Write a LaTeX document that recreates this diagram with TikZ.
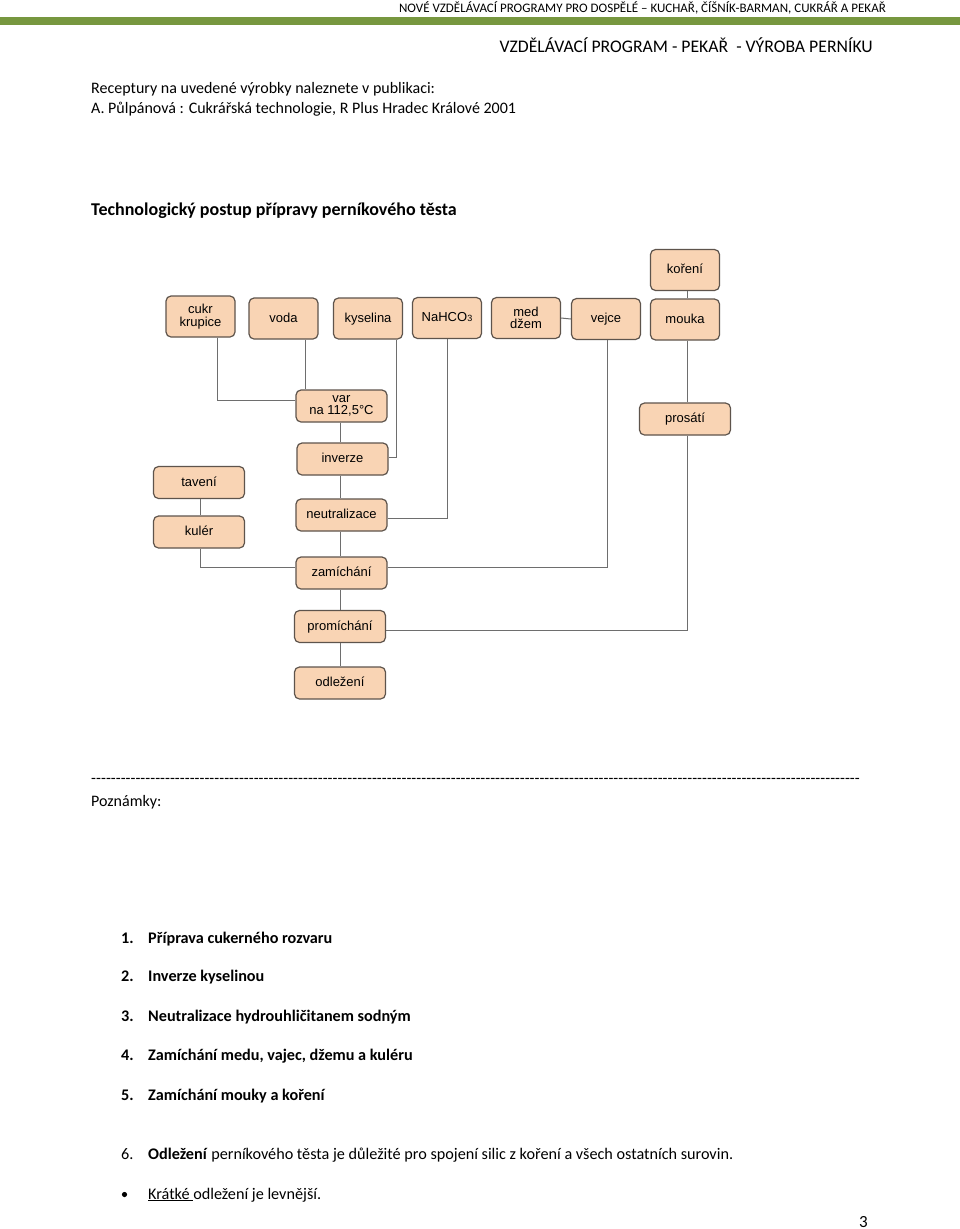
\documentclass[tikz,border=0pt]{standalone}
\usepackage{fontspec}
\setmainfont{Carlito}
\newfontfamily\arialf{Liberation Sans}
\usetikzlibrary{calc}
\definecolor{boxfill}{HTML}{F9D4B4}
\definecolor{boxline}{HTML}{5E544C}
\definecolor{connc}{HTML}{6E6E6E}
\definecolor{barg}{HTML}{77973F}
\begin{document}
\begin{tikzpicture}[x=1pt,y=-1pt,
  txt/.style={anchor=base west, inner sep=0, font=\fontsize{16}{19}\selectfont},
  listtxt/.style={anchor=base west, inner sep=0, font=\fontsize{16.2}{19}\selectfont},
  fbox/.style={draw=boxline, fill=boxfill, rounded corners=5pt, line width=1.2pt,
    align=center, inner sep=0pt, font=\arialf\fontsize{13}{12.5}\selectfont},
  one/.style={text height=9.5pt, text depth=2.5pt},
  topbox/.style={fbox, minimum width=69pt, minimum height=41pt},
  midbox/.style={fbox, minimum width=91pt, minimum height=32pt},
  conn/.style={draw=connc, line width=1pt}]
\useasboundingbox (0,0) rectangle (960,1229);
\fill[white] (0,0) rectangle (960,1229);

% header
\node[anchor=base east, inner sep=0, font=\fontsize{13}{15}\selectfont] (hdr) at (886,12)
  {NOVÉ VZDĚLÁVACÍ PROGRAMY PRO DOSPĚLÉ – KUCHAŘ, ČÍŠNÍK-BARMAN, CUKRÁŘ A PEKAŘ};
\fill[barg] (0,17) rectangle (960,25);
\node[anchor=base east, inner sep=0, font=\fontsize{17.7}{20}\selectfont] (ttl) at (873,52)
  {VZDĚLÁVACÍ PROGRAM - PEKAŘ \ - VÝROBA PERNÍKU};

\node[txt] (r1) at (91,93) {Receptury na uvedené výrobky naleznete v publikaci:};
\node[txt] (r2) at (91,113) {A. Půlpánová : Cukrářská technologie, R Plus Hradec Králové 2001};
\node[txt, font=\bfseries\fontsize{18}{21}\selectfont] (tp) at (91,215)
  {Technologický postup přípravy perníkového těsta};

% boxes
\node[topbox] (cukr) at (200.5,316.5) {cukr\\krupice};
\node[topbox, one] (voda) at (283.5,318.5) {voda};
\node[topbox, one] (kys) at (368,318.5) {kyselina};
\node[topbox, one] (nahco) at (447,318) {NaHCO{\fontsize{9}{9}\selectfont 3}};
\node[topbox] (med) at (526,318) {med\\džem};
\node[topbox, one] (vejce) at (606,319) {vejce};
\node[topbox, one] (koreni) at (685,270) {koření};
\node[topbox, one] (mouka) at (685,319.5) {mouka};
\node[midbox] (var) at (341.5,406) {var\\na 112,5°C};
\node[midbox, one] (prosati) at (685,419) {prosátí};
\node[midbox, one] (inverze) at (342.5,459) {inverze};
\node[midbox, one] (taveni) at (199,482.5) {tavení};
\node[midbox, one] (neutral) at (341.5,515) {neutralizace};
\node[midbox, one] (kuler) at (199,532) {kulér};
\node[midbox, one] (zam) at (341.5,573) {zamíchání};
\node[midbox, one] (prom) at (340,626.5) {promíchání};
\node[midbox, one] (odl) at (340,683) {odležení};

% connectors
\draw[conn] ([xshift=17pt]cukr.south) |- ([yshift=6pt]var.west);
\draw[conn] ([xshift=21.5pt]voda.south) -- ([xshift=21.5pt]voda.south |- var.north);
\draw[conn] ([xshift=28pt]kys.south) |- ([yshift=2pt]inverze.east);
\draw[conn] (nahco.south) |- ([yshift=-3pt]neutral.east);
\draw[conn] (med.east) -- (vejce.west);
\draw[conn] ([xshift=1pt]vejce.south) |- ([yshift=6pt]zam.east);
\draw[conn] ([xshift=2pt]koreni.south) -- ([xshift=2pt]mouka.north);
\draw[conn] ([xshift=2pt]mouka.south) -- ([xshift=2pt]prosati.north);
\draw[conn] ([xshift=2pt]prosati.south) |- ([yshift=-4pt]prom.east);
\draw[conn] ([xshift=-1.5pt]var.south) -- ([xshift=-2.5pt]inverze.north);
\draw[conn] ([xshift=-2.5pt]inverze.south) -- ([xshift=-1.5pt]neutral.north);
\draw[conn] ([xshift=-1.5pt]neutral.south) -- ([xshift=-1.5pt]zam.north);
\draw[conn] ([xshift=-1.5pt]zam.south) -- (prom.north);
\draw[conn] (prom.south) -- (odl.north);
\draw[conn] ([xshift=1pt]taveni.south) -- ([xshift=1pt]kuler.north);
\draw[conn] ([xshift=1pt]kuler.south) |- ([yshift=6pt]zam.west);

% notes
\node[txt] (dash) at (91,783) {\hbox to 769pt{\xleaders\hbox{-}\hfill}};
\node[txt] (pozn) at (91,806) {Poznámky:};

\begin{scope}[every node/.style={listtxt, font=\bfseries\fontsize{16.2}{19}\selectfont}]
\node (n1) at (121,943) {1.};  \node (t1) at (148,943) {Příprava cukerného rozvaru};
\node (n2) at (121,981) {2.};  \node (t2) at (148,981) {Inverze kyselinou};
\node (n3) at (121,1021) {3.}; \node (t3) at (148,1021) {Neutralizace hydrouhličitanem sodným};
\node (n4) at (121,1060) {4.}; \node (t4) at (148,1060) {Zamíchání medu, vajec, džemu a kuléru};
\node (n5) at (121,1100) {5.}; \node (t5) at (148,1100) {Zamíchání mouky a koření};
\end{scope}
\node[listtxt] (n6) at (121,1159) {6.};
\node[listtxt] (t6) at (148,1159) {\textbf{Odležení} perníkového těsta je důležité pro spojení silic z koření a všech ostatních surovin.};
\fill (124.5,1194.5) circle (2.6pt);
\node[listtxt] (t7) at (148,1199) {\underline{Krátké }odležení je levnější.};

\node[anchor=base east, inner sep=0, font=\fontsize{17}{20}\selectfont] (pg) at (868,1227) {3};
\end{tikzpicture}
\end{document}
